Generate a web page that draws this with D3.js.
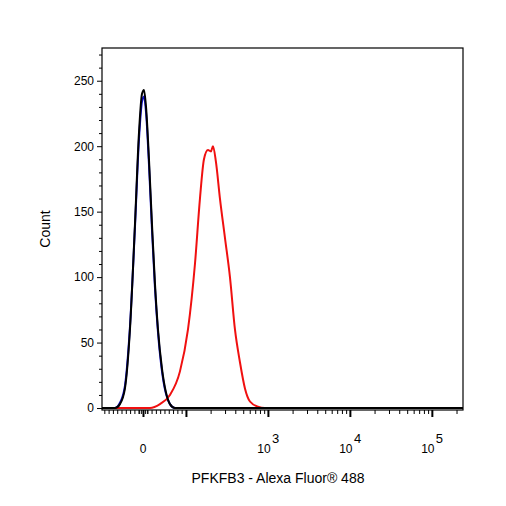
<!DOCTYPE html>
<html><head><meta charset="utf-8">
<script src="https://cdn.jsdelivr.net/npm/d3@7"></script>
<style>body{margin:0;background:#fff}text{font-family:Arial,"Liberation Sans",sans-serif}</style>
</head><body>
<svg id="chart" width="506" height="506"></svg>
<script>
// channel positions are in display units (biexponential-ish: 0 -> 1.476, 10^n -> n)
var blackX = [0.976,1.135,1.195,1.256,1.317,1.378,1.427,1.464,1.488,1.513,1.549,1.586,1.622,1.659,1.708,1.756,1.805,1.866,5.38]
var blackY = [0,0,3,15,60,140,210,240,243,230,190,140,95,60,30,12,3,0,0]
var blueX = blackX
var blueY = [0,0,4,17,62,138,205,234,238,226,186,136,92,58,28,11,3,0,0]
var redX = [0.976,1.561,1.683,1.805,1.927,2.025,2.110,2.171,2.220,2.269,2.305,2.330,2.366,2.415,2.476,2.537,2.598,2.659,2.720,2.781,2.878,2.964,5.38]
var redY = [0,0,3,10,28,60,110,160,190,197,196,200,188,160,130,100,60,35,15,5,1,0,0]
var yTicks = [0,50,100,150,200,250]
var xLabels = [{u:1.476,t:"0"},{u:3,t:"3"},{u:4,t:"4"},{u:5,t:"5"}]

var svg = d3.select("#chart")
var margin = {top:48, left:102, right:43, bottom:96}
var w = 506-margin.left-margin.right, h = 506-margin.top-margin.bottom
var g = svg.append("g").attr("transform","translate("+margin.left+","+margin.top+")")

var x = d3.scaleLinear().domain([0.976,5.38]).range([0,w])
var y = d3.scaleLinear().domain([-1.5,275]).range([h,0])

function toU(v){ // value -> display unit
  if (v>=100) return Math.log10(v)
  return 1.476 + v*(2-1.476)/100
}

// y axis
g.append("g").call(d3.axisLeft(y).tickValues(yTicks).tickSize(5).tickPadding(3))
  .call(a=>a.select(".domain").remove())
  .selectAll("text").style("font-size","12px").style("font-family","Arial, 'Liberation Sans', sans-serif")
g.append("g").call(d3.axisLeft(y).tickValues(d3.range(10,271,10).filter(d=>d%50)).tickSize(3).tickFormat(""))
  .call(a=>a.select(".domain").remove())

// x axis minor ticks
var minor = d3.range(-100,100,10).concat(d3.range(-10,11,5))
for (var d=2; d<=5; d++) for (var k=2;k<=9;k++) minor.push(k*Math.pow(10,d))
minor = minor.filter(v=>{var u=toU(v); return u>0.99&&u<5.37})
g.append("g").attr("transform","translate(0,"+h+")")
  .call(d3.axisBottom(x).tickValues(minor.map(toU)).tickSize(4).tickFormat(""))
  .call(a=>a.select(".domain").remove())
g.append("g").attr("transform","translate(0,"+h+")")
  .call(d3.axisBottom(x).tickValues([toU(0),2,3,4,5]).tickSize(7).tickFormat(""))
  .call(a=>a.select(".domain").remove())
  .selectAll("line").attr("stroke-width",2)

var lab = g.append("g").style("font-size","12px")
xLabels.forEach(function(l){
  var t = lab.append("text").attr("x",x(l.u)).attr("y",h+43).attr("text-anchor","middle")
  if (l.t==="0") t.text("0")
  else { t.attr("dx",-4).text("10"); lab.append("text").attr("x",x(l.u)+4).attr("y",h+33).style("font-size","13px").text(l.t) }
})

var line = d3.line().x(d=>x(d[0])).y(d=>y(d[1])).curve(d3.curveMonotoneX)
function draw(xs,ys,c){
  g.append("path").datum(xs.map((v,i)=>[v,ys[i]])).attr("fill","none").attr("stroke",c)
   .attr("stroke-width",2).attr("d",line)
}
draw(blueX,blueY,"#1010d0")
draw(redX,redY,"#f01010")
draw(blackX,blackY,"#000")

g.append("rect").attr("width",w).attr("height",h).attr("fill","none").attr("stroke","#000").attr("stroke-width",1.2)

svg.append("text").attr("x",278).attr("y",483).attr("text-anchor","middle").style("font-size","14px").text("PFKFB3 - Alexa Fluor® 488")
svg.append("text").attr("transform","translate(50,229)rotate(-90)").attr("text-anchor","middle").style("font-size","14px").text("Count")
</script>
</body></html>
